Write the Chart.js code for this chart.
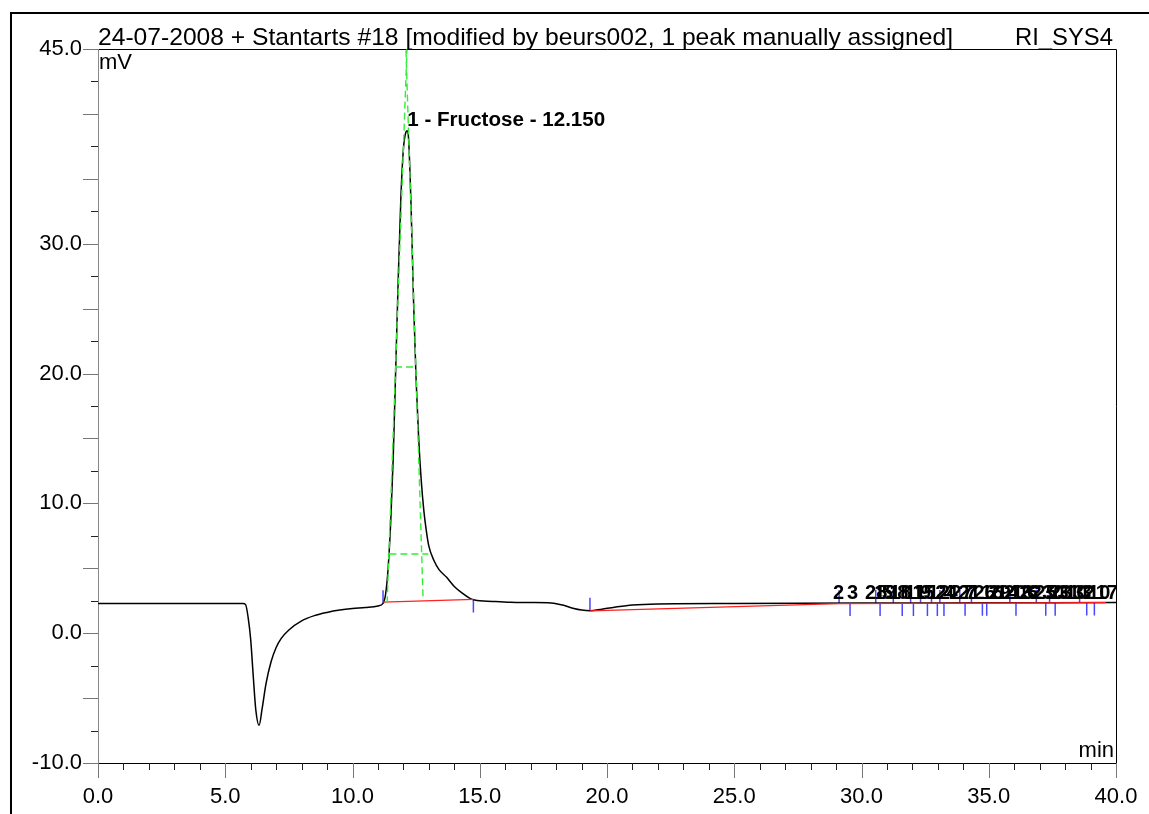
<!DOCTYPE html>
<html>
<head>
<meta charset="utf-8">
<script src="https://cdn.jsdelivr.net/npm/chart.js@4/dist/chart.umd.min.js"></script>
<style>
  html, body { margin: 0; padding: 0; background: #fff; }
  canvas { display: block; }
</style>
</head>
<body>
<canvas id="chartCromatograma" width="1149" height="814"></canvas>
<script>
// signal trace (min, mV)
const tiempos = [0, 5.0, 5.7, 5.8, 5.9, 6.0, 6.1, 6.2, 6.33, 6.45, 6.6, 6.8, 7.0, 7.2, 7.5, 8.0, 8.5, 9.0, 9.5, 10.0, 10.5, 11.0, 11.2,
  11.3, 11.4, 11.5, 11.6, 11.7, 11.8, 11.9, 12.0, 12.1, 12.15, 12.2, 12.3, 12.4, 12.5, 12.6, 12.7, 12.8, 12.9, 13.0, 13.2, 13.4, 13.7,
  14.0, 14.3, 14.6, 14.8, 15.5, 16.2, 17.0, 17.8, 18.3, 18.7, 19.0, 19.33, 19.8, 20.3, 21.0, 22.0, 25.0, 30.0, 35.0, 40.0];
const senal = [2.28, 2.28, 2.28, 2.2, 1.2, -0.5, -3.3, -5.9, -7.1, -5.8, -3.9, -2.2, -1.1, -0.4, 0.25, 0.95, 1.35, 1.6, 1.78, 1.9, 1.98, 2.1, 2.3,
  3.0, 5.0, 8.5, 13.5, 20.5, 27.5, 33.5, 37.3, 38.6, 38.7, 38.2, 33.0, 25.5, 19.5, 15.0, 11.8, 9.5, 7.9, 6.7, 5.6, 4.9, 4.3,
  3.6, 3.1, 2.7, 2.55, 2.45, 2.38, 2.36, 2.33, 2.15, 1.9, 1.78, 1.72, 1.85, 2.0, 2.17, 2.25, 2.28, 2.32, 2.34, 2.36];

// integration baselines [t1, mV1, t2, mV2]
const lineasBase = [[11.2, 2.4, 14.75, 2.6], [19.33, 1.72, 29.12, 2.28], [29.12, 2.28, 39.6, 2.36]];
// green dashed peak construction lines
const lineasTangente = [[11.36, 2.3, 12.14, 45], [12.77, 2.85, 12.1, 45]];
const lineasAncho = [[11.45, 6.1, 12.98, 6.1], [11.67, 20.5, 12.53, 20.5]];

// peak start / end markers (min)
const iniciosPico = [11.2, 19.33, 29.12, 30.56, 31.25, 31.93, 32.32, 32.75, 33.08, 33.86, 34.32, 35.83, 36.87, 37.39, 38.57];
const finesPico = [14.75, 29.55, 30.73, 31.6, 32.04, 32.59, 32.98, 33.24, 34.07, 34.75, 34.92, 36.07, 37.24, 37.61, 38.85, 39.15];

// named peak
const picoNombre = "1 - Fructose - 12.150";
const picoTiempo = 12.15;
const picoAltura = 38.7;

// small unnamed peaks labels
const etiquetasTiempo = [28.88, 29.43, 30.14, 30.5, 30.8, 31.1, 31.4, 31.7, 32.0, 32.3, 32.6, 32.9, 33.2, 33.5, 33.8,
  34.1, 34.4, 34.7, 35.0, 35.3, 35.6, 35.9, 36.2, 36.5, 36.8, 37.1, 37.4, 37.7, 38.0, 38.3, 38.6, 38.9, 39.2];
const etiquetasTexto = ["2", "3", "28", "19", "5", "18", "8", "11", "15", "9", "12", "24", "4", "27", "21",
  "7", "26", "16", "29", "14", "20", "13", "22", "6", "25", "30", "23", "31", "10", "32", "3", "10", "17"];

// axes
const xTicks = [0, 5, 10, 15, 20, 25, 30, 35, 40];
const xTickLabels = ["0.0", "5.0", "10.0", "15.0", "20.0", "25.0", "30.0", "35.0", "40.0"];
const yTicks = [45, 30, 20, 10, 0, -10];
const yTickLabels = ["45.0", "30.0", "20.0", "10.0", "0.0", "-10.0"];

const titulo = "24-07-2008 + Stantarts #18 [modified by beurs002, 1 peak manually assigned]";
const canal = "RI_SYS4";

function valorEn(t) {
    for (let i = 1; i < tiempos.length; i++) {
        if (t <= tiempos[i]) {
            const f = (t - tiempos[i - 1]) / (tiempos[i] - tiempos[i - 1]);
            return senal[i - 1] + f * (senal[i] - senal[i - 1]);
        }
    }
    return senal[senal.length - 1];
}

function segmentos(lista) {
    const puntos = [];
    lista.forEach(s => {
        puntos.push({ x: s[0], y: s[1] }, { x: s[2], y: s[3] }, { x: s[2], y: null });
    });
    return puntos;
}

function marcas() {
    const puntos = [];
    iniciosPico.forEach(t => {
        const b = valorEn(t);
        puntos.push({ x: t, y: b }, { x: t, y: b + 1.0 }, { x: t, y: null });
    });
    finesPico.forEach(t => {
        const b = valorEn(t);
        puntos.push({ x: t, y: b }, { x: t, y: b - 1.0 }, { x: t, y: null });
    });
    return puntos;
}

// text stretched / squeezed horizontally to a given width
function textoAncho(ctx, texto, x, y, ancho) {
    const w = ctx.measureText(texto).width;
    ctx.save();
    ctx.translate(x, y);
    ctx.scale(ancho / w, 1);
    ctx.fillText(texto, 0, 0);
    ctx.restore();
}

const FUENTE = '"Liberation Sans", Arial, sans-serif';

const marco = {
    id: "marco",
    beforeDatasetsDraw(chart) {
        const ctx = chart.ctx;
        const a = chart.chartArea;
        const sx = chart.scales.x, sy = chart.scales.y;
        ctx.save();
        // outer border
        ctx.strokeStyle = "#000";
        ctx.lineWidth = 2;
        ctx.beginPath();
        ctx.moveTo(11, 830);
        ctx.lineTo(11, 13);
        ctx.lineTo(1160, 13);
        ctx.stroke();

        // plot frame
        ctx.lineWidth = 1;
        ctx.strokeStyle = "#000";
        ctx.beginPath();
        ctx.moveTo(a.left, a.top + 0.5);
        ctx.lineTo(a.right + 0.5, a.top + 0.5);
        ctx.lineTo(a.right + 0.5, a.bottom);
        ctx.moveTo(a.left, a.bottom + 0.5);
        ctx.lineTo(a.right + 0.5, a.bottom + 0.5);
        ctx.stroke();
        ctx.strokeStyle = "#888";
        ctx.beginPath();
        ctx.moveTo(a.left + 0.5, a.top);
        ctx.lineTo(a.left + 0.5, a.bottom);
        ctx.stroke();

        // y ticks every 2.5
        for (let v = -10; v <= 45; v += 2.5) {
            const y = Math.round(sy.getPixelForValue(v)) + 0.5;
            const largo = (v % 5 === 0) ? 15 : 7;
            ctx.strokeStyle = (v % 5 === 0) ? "#777" : "#222";
            ctx.beginPath();
            ctx.moveTo(a.left - largo, y);
            ctx.lineTo(a.left, y);
            ctx.stroke();
        }
        // x ticks every 1 min
        for (let t = 0; t <= 40; t += 1) {
            const x = Math.round(sx.getPixelForValue(t)) + 0.5;
            const largo = (t % 5 === 0) ? 15 : 7;
            ctx.strokeStyle = (t % 5 === 0) ? "#777" : "#222";
            ctx.beginPath();
            ctx.moveTo(x, a.bottom);
            ctx.lineTo(x, a.bottom + largo);
            ctx.stroke();
        }
        ctx.restore();
    },
    afterDraw(chart) {
        const ctx = chart.ctx;
        const a = chart.chartArea;
        const sx = chart.scales.x, sy = chart.scales.y;
        ctx.save();
        ctx.fillStyle = "#000";
        ctx.font = "22px " + FUENTE;

        ctx.textAlign = "right";
        ctx.textBaseline = "middle";
        yTicks.forEach((v, i) => {
            ctx.fillText(yTickLabels[i], a.left - 16, sy.getPixelForValue(v));
        });
        ctx.textAlign = "center";
        ctx.textBaseline = "alphabetic";
        xTicks.forEach((t, i) => {
            ctx.fillText(xTickLabels[i], sx.getPixelForValue(t), a.bottom + 40);
        });

        // axis units
        ctx.textAlign = "left";
        ctx.fillText("mV", a.left + 1, a.top + 20);
        ctx.textAlign = "right";
        ctx.fillText("min", a.right - 2, a.bottom - 6);

        // title
        ctx.font = "24px " + FUENTE;
        ctx.textAlign = "left";
        textoAncho(ctx, titulo, a.left, a.top - 4, 855);
        textoAncho(ctx, canal, a.right - 101, a.top - 4, 98);

        // peak labels
        ctx.font = "bold 20px " + FUENTE;
        textoAncho(ctx, picoNombre, sx.getPixelForValue(picoTiempo), sy.getPixelForValue(picoAltura) - 5, 198);
        etiquetasTiempo.forEach((t, i) => {
            ctx.fillText(etiquetasTexto[i], sx.getPixelForValue(t), sy.getPixelForValue(valorEn(t)) - 4);
        });
        ctx.restore();
    }
};

const datasets = [
    {
        data: segmentos(lineasTangente.concat(lineasAncho)),
        borderColor: "#33ee33",
        borderWidth: 1.4,
        borderDash: [7, 4],
        spanGaps: false
    },
    {
        data: segmentos(lineasBase),
        borderColor: "#ff2020",
        borderWidth: 1.3,
        spanGaps: false
    },
    {
        data: tiempos.map((t, i) => ({ x: t, y: senal[i] })),
        borderColor: "#000",
        borderWidth: 1.5,
        cubicInterpolationMode: "monotone"
    },
    {
        data: marcas(),
        borderColor: "#4848ff",
        borderWidth: 1.5,
        spanGaps: false
    }
];

new Chart(document.getElementById("chartCromatograma").getContext("2d"), {
    type: "line",
    data: { datasets: datasets },
    options: {
        responsive: false,
        animation: false,
        layout: { padding: { left: 98, top: 49, right: 33, bottom: 51 } },
        elements: { point: { radius: 0 } },
        scales: {
            x: { type: "linear", min: 0, max: 40, display: false },
            y: { type: "linear", min: -10, max: 45, display: false }
        },
        plugins: {
            legend: { display: false },
            tooltip: { enabled: false }
        }
    },
    plugins: [marco]
});
</script>
</body>
</html>
